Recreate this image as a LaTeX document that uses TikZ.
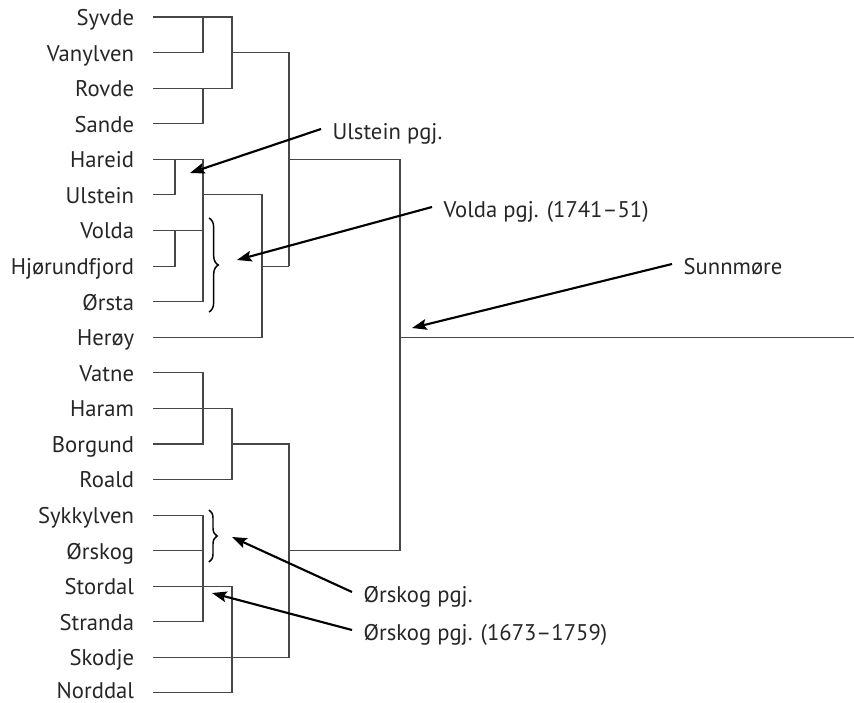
\documentclass[tikz,border=0pt]{standalone}
\usepackage{fontspec}
\setmainfont{PT Sans}
\usetikzlibrary{arrows.meta,decorations.pathreplacing}

\begin{document}
\begin{tikzpicture}[x=0.75pt, y=-0.75pt, inner sep=0pt]
		\tikzstyle{every node}=[font=\fontsize{17}{20}\selectfont, text=black!85]
		\tikzstyle{leaf}=[anchor=east, inner xsep=14pt, text height=12.6pt, text depth=0pt]
		\tikzstyle{callout}=[anchor=west, inner xsep=8.5pt, text height=15pt, text depth=0pt]
		\tikzstyle{branch}=[draw=black!72, line width=0.8pt]
		\tikzstyle{pointer}=[draw=black, line width=1.6pt, -{Stealth[length=11pt, width=8pt, inset=2pt]}]
		\tikzstyle{bracket}=[draw=black, line width=1.1pt, decorate]
		\useasboundingbox (0,0) rectangle (854,703);

			\node[leaf] (syvde) at (153, 17) {Syvde};
			\node[leaf] (vanylven) at (153, 52.6) {Vanylven};
			\node[leaf] (rovde) at (153, 88.2) {Rovde};
			\node[leaf] (sande) at (153, 123.7) {Sande};
			\node[leaf] (hareid) at (153, 159.3) {Hareid};
			\node[leaf] (ulstein) at (153, 194.9) {Ulstein};
			\node[leaf] (volda) at (153, 230.5) {Volda};
			\node[leaf] (hjorund) at (153, 266.1) {Hjørundfjord};
			\node[leaf] (orsta) at (153, 301.6) {Ørsta};
			\node[leaf] (heroy) at (153, 337.2) {Herøy};
			\node[leaf] (vatne) at (153, 372.8) {Vatne};
			\node[leaf] (haram) at (153, 408.4) {Haram};
			\node[leaf] (borgund) at (153, 444) {Borgund};
			\node[leaf] (roald) at (153, 479.5) {Roald};
			\node[leaf] (sykkylven) at (153, 515.1) {Sykkylven};
			\node[leaf] (orskog) at (153, 550.7) {Ørskog};
			\node[leaf] (stordal) at (153, 586.3) {Stordal};
			\node[leaf] (stranda) at (153, 621.9) {Stranda};
			\node[leaf] (skodje) at (153, 657.4) {Skodje};
			\node[leaf, text height=9pt] (norddal) at (153, 692.5) {Norddal};

			% columns of the tree
			\coordinate (colA) at (175, 0);
			\coordinate (colB) at (203, 0);
			\coordinate (colC) at (232, 0);
			\coordinate (colD) at (262, 0);
			\coordinate (colE) at (289, 0);
			\coordinate (colF) at (400, 0);
			\coordinate (rim) at (854, 0);

			\draw[branch] (syvde.east) -- (syvde -| colC) -- (rovde -| colC) -- (rovde.east);
			\draw[branch] (vanylven.east) -| (syvde -| colB);
			\draw[branch] (sande.east) -| (rovde -| colB);
			\draw[branch] (vanylven -| colC) -- (vanylven -| colE) -- (hjorund -| colE);

			\draw[branch] (hareid.east) -- (hareid -| colB) -- (orsta -| colB) -- (orsta.east);
			\draw[branch] (ulstein.east) -| (hareid -| colA);
			\draw[branch] (hjorund.east) -| (volda -| colA);
			\draw[branch] (volda.east) -- (volda -| colB);
			\draw[branch] (ulstein -| colB) -- (ulstein -| colD) -- (heroy -| colD) -- (heroy.east);
			\draw[branch] (hjorund -| colD) -- (hjorund -| colE);
			\draw[branch] (hareid -| colE) -- (hareid -| colF) -- (orskog -| colF) -- (orskog -| colE);
			\draw[branch] (heroy -| colF) -- (heroy -| rim);

			\draw[branch] (vatne.east) -- (vatne -| colB) -- (borgund -| colB) -- (borgund.east);
			\draw[branch] (haram.east) -- (haram -| colC) -- (roald -| colC) -- (roald.east);
			\draw[branch] (borgund -| colC) -- (borgund -| colE) -- (skodje -| colE) -- (skodje.east);
			\draw[branch] (sykkylven.east) -- (sykkylven -| colB) -- (stranda -| colB) -- (stranda.east);
			\draw[branch] (orskog.east) -- (orskog -| colB);
			\draw[branch] (stordal.east) -- (stordal -| colC) -- (norddal -| colC) -- (norddal.east);

			% braces
			\coordinate (voldatop) at (209, 218);
			\coordinate (voldabot) at (209, 312);
			\coordinate (orskogtop) at (209, 510);
			\coordinate (orskogbot) at (209, 562);
			\draw[bracket, decoration={brace, amplitude=7pt}] (voldatop) -- (voldabot);
			\draw[bracket, decoration={brace, amplitude=6pt}] (orskogtop) -- (orskogbot);

			% callouts
			\node[callout] (ulsteinpgj) at (321, 129) {Ulstein pgj.};
			\node[callout] (voldapgj) at (432, 207) {Volda pgj. (1741–51)};
			\node[callout] (sunnmore) at (672, 264) {Sunnmøre};
			\node[callout] (orskogpgj) at (352, 592) {Ørskog pgj.};
			\node[callout] (orskogold) at (352, 630) {Ørskog pgj. (1673–1759)};

			\coordinate (ulsteintip) at (190, 173);
			\coordinate (voldatip) at (237, 260);
			\coordinate (sunntip) at (412, 328);
			\coordinate (orskogtip) at (232, 537);
			\coordinate (orskogoldtip) at (212, 593);

			\draw[pointer] (ulsteinpgj.west) -- (ulsteintip);
			\draw[pointer] (voldapgj.west) -- (voldatip);
			\draw[pointer] (sunnmore.west) -- (sunntip);
			\draw[pointer] (orskogpgj.west) -- (orskogtip);
			\draw[pointer] (orskogold.west) -- (orskogoldtip);
		\end{tikzpicture}
\end{document}
